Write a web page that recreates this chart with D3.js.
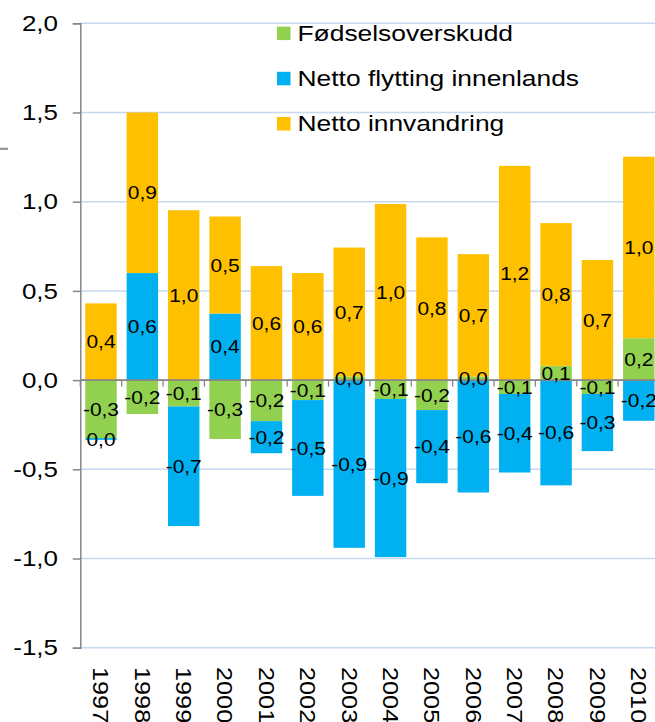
<!DOCTYPE html>
<html>
<head>
<meta charset="utf-8">
<script src="https://cdn.jsdelivr.net/npm/d3@7"></script>
<style>
  body { margin: 0; background: #fff; }
  text { font-family: "Liberation Sans", Arial, sans-serif; }
</style>
</head>
<body>
<div id="chart"></div>
<script>
const years = ["1997", "1998", "1999", "2000", "2001", "2002", "2003", "2004", "2005", "2006", "2007", "2008", "2009", "2010"];
const fodselsoverskudd = [-0.325, -0.19, -0.148, -0.33, -0.23, -0.112, 0.02, -0.106, -0.168, 0.02, -0.078, 0.08, -0.078, 0.235];
const flyttingInnenlands = [-0.01, 0.60, -0.67, 0.373, -0.18, -0.537, -0.94, -0.886, -0.41, -0.63, -0.44, -0.59, -0.32, -0.228];
const innvandring = [0.43, 0.90, 0.952, 0.544, 0.639, 0.60, 0.723, 0.987, 0.80, 0.686, 1.201, 0.80, 0.673, 1.017];
const seriesNames = ["Fødselsoverskudd", "Netto flytting innenlands", "Netto innvandring"];
const seriesColors = ["#92d050", "#00b0f0", "#ffc000"];
const yTicks = [-1.5, -1.0, -0.5, 0.0, 0.5, 1.0, 1.5, 2.0];

const width = 655;
const height = 722;

const rows = years.map((y, i) => ({
    year: y,
    s0: fodselsoverskudd[i],
    s1: flyttingInnenlands[i],
    s2: innvandring[i]
}));
const keys = ["s0", "s1", "s2"];

const svg = d3.select("#chart")
    .append("svg")
    .attr("width", width)
    .attr("height", height);

const y = d3.scaleLinear().domain([-1.5, 2.0]).range([647.7, 23.3]);
const x = d3.scaleBand()
    .domain(years)
    .range([80.3, 659.5])
    .paddingInner(0.24)
    .paddingOuter(0.12);

const comma = v => {
    let s = v.toFixed(1);
    if (s === "-0.0") s = "0.0";
    return s.replace(".", ",");
};

// gridlines
svg.append("g")
    .selectAll("line")
    .data(yTicks)
    .enter()
    .append("line")
    .attr("x1", 80.3)
    .attr("x2", width)
    .attr("y1", d => y(d))
    .attr("y2", d => y(d))
    .style("stroke", "#c6d9f1")
    .style("stroke-width", 1.5);

// y axis (labels drawn separately, the text in the source is a bit wide)
const yAxis = svg.append("g")
    .attr("transform", "translate(80.3,0)")
    .call(d3.axisLeft(y).tickValues(yTicks).tickSize(7.5).tickFormat(""));
yAxis.select(".domain").style("stroke", "#868686").style("stroke-width", 1.5);
yAxis.selectAll(".tick line").style("stroke", "#868686").style("stroke-width", 1.5);

svg.append("g")
    .selectAll("text")
    .data(yTicks)
    .enter()
    .append("text")
    .attr("transform", d => `translate(58,${y(d)}) scale(1.18,1)`)
    .attr("dy", "0.35em")
    .attr("text-anchor", "end")
    .style("font-size", "22px")
    .style("fill", "#000")
    .text(d => comma(d));

// stacked bars
const stack = d3.stack().keys(keys).offset(d3.stackOffsetDiverging);
const stacked = stack(rows);

const layers = svg.append("g")
    .selectAll("g")
    .data(stacked)
    .enter()
    .append("g")
    .attr("fill", (d, i) => seriesColors[i]);

layers.selectAll("rect")
    .data(d => d)
    .enter()
    .append("rect")
    .attr("x", d => x(d.data.year))
    .attr("width", x.bandwidth())
    .attr("y", d => y(Math.max(d[0], d[1])))
    .attr("height", d => Math.abs(y(d[0]) - y(d[1])));

// zero axis with category ticks
svg.append("line")
    .attr("x1", 80.3)
    .attr("x2", width)
    .attr("y1", y(0))
    .attr("y2", y(0))
    .style("stroke", "#868686")
    .style("stroke-width", 1.8);

svg.append("g")
    .selectAll("line")
    .data(d3.range(years.length + 1))
    .enter()
    .append("line")
    .attr("x1", i => 80.3 + i * x.step())
    .attr("x2", i => 80.3 + i * x.step())
    .attr("y1", y(0))
    .attr("y2", y(0) + 6.5)
    .style("stroke", "#868686")
    .style("stroke-width", 1.3);

// data labels
const labels = svg.append("g");
stacked.forEach(layer => {
    labels.selectAll(null)
        .data(layer)
        .enter()
        .append("text")
        .attr("transform", d => `translate(${x(d.data.year) + x.bandwidth() / 2},${y((d[0] + d[1]) / 2)}) scale(1.1,1)`)
        .attr("dy", "0.35em")
        .attr("text-anchor", "middle")
        .style("font-size", "19px")
        .style("fill", "#000")
        .text(d => comma(d.data[layer.key]));
});

// x labels, rotated
svg.append("g")
    .selectAll("text")
    .data(years)
    .enter()
    .append("text")
    .attr("transform", d => `translate(${x(d) + x.bandwidth() / 2},667) rotate(90) scale(1.15,1)`)
    .attr("dy", "0.35em")
    .attr("text-anchor", "start")
    .style("font-size", "22px")
    .style("fill", "#000")
    .text(d => d);

// legend
const legend = svg.append("g")
    .selectAll("g")
    .data(seriesNames)
    .enter()
    .append("g")
    .attr("transform", (d, i) => `translate(277,${33.3 + i * 45.2})`);

legend.append("rect")
    .attr("x", 0)
    .attr("y", -6.7)
    .attr("width", 13.5)
    .attr("height", 13.5)
    .attr("fill", (d, i) => seriesColors[i]);

legend.append("text")
    .attr("transform", "translate(20.5,0) scale(1.2,1)")
    .attr("dy", "0.35em")
    .style("font-size", "22px")
    .style("fill", "#000")
    .text(d => d);

// stray mark at left edge
svg.append("line")
    .attr("x1", 0)
    .attr("x2", 8)
    .attr("y1", 148.8)
    .attr("y2", 148.8)
    .style("stroke", "#969696")
    .style("stroke-width", 2.3);
</script>
</body>
</html>
